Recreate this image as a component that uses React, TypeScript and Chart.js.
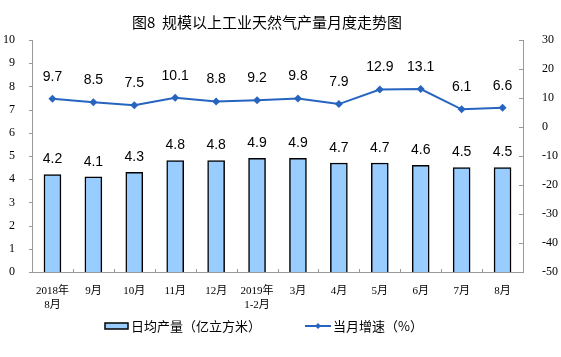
import React, { useEffect, useRef } from "react";
import { Chart, registerables } from "chart.js";

Chart.register(...registerables);

const categories: string[][] = [
  ["2018年", "8月"], ["9月"], ["10月"], ["11月"], ["12月"], ["2019年", "1-2月"],
  ["3月"], ["4月"], ["5月"], ["6月"], ["7月"], ["8月"],
];
const dailyOutput = [4.2, 4.1, 4.3, 4.8, 4.8, 4.9, 4.9, 4.7, 4.7, 4.6, 4.5, 4.5];
const monthlyGrowth = [9.7, 8.5, 7.5, 10.1, 8.8, 9.2, 9.8, 7.9, 12.9, 13.1, 6.1, 6.6];
const barLabel = "日均产量（亿立方米）";
const lineLabel = "当月增速（%）";
const title = "图8  规模以上工业天然气产量月度走势图";

const BAR_FILL = "#99CCFF";
const LINE_COLOR = "#2664C0";
const AXIS_COLOR = "#999";
const SERIF = "'Liberation Serif', 'Noto Sans CJK SC', serif";
const SANS = "'Liberation Sans', Arial, sans-serif";

const overlay = {
  id: "overlay",
  afterDatasetsDraw(chart: any) {
    const ctx = chart.ctx;
    ctx.save();
    ctx.fillStyle = "#000";
    ctx.font = `14px ${SANS}`;
    ctx.textAlign = "center";
    ctx.textBaseline = "bottom";
    chart.getDatasetMeta(0).data.forEach((el: any, i: number) => {
      ctx.fillText(dailyOutput[i].toFixed(1), el.x, el.y - 8);
    });
    chart.getDatasetMeta(1).data.forEach((el: any, i: number) => {
      ctx.fillText(monthlyGrowth[i].toFixed(1), el.x, el.y - 15);
    });
    ctx.restore();
  },
  afterDraw(chart: any) {
    const ctx = chart.ctx;
    const area = chart.chartArea;
    ctx.save();
    // tick marks
    ctx.strokeStyle = AXIS_COLOR;
    ctx.lineWidth = 1;
    ctx.beginPath();
    const yS = chart.scales.y;
    yS.ticks.forEach((t: any) => {
      const py = Math.round(yS.getPixelForValue(t.value)) + 0.5;
      ctx.moveTo(area.left - 3, py);
      ctx.lineTo(area.left, py);
    });
    const y1S = chart.scales.y1;
    y1S.ticks.forEach((t: any) => {
      const py = Math.round(y1S.getPixelForValue(t.value)) + 0.5;
      ctx.moveTo(area.right - 4, py);
      ctx.lineTo(area.right, py);
    });
    const n = categories.length;
    const w = (area.right - area.left) / n;
    for (let i = 1; i < n; i++) {
      const px = Math.round(area.left + w * i) + 0.5;
      ctx.moveTo(px, area.bottom);
      ctx.lineTo(px, area.bottom - 3);
    }
    ctx.stroke();
    // title
    ctx.fillStyle = "#000";
    ctx.font = `15px 'Noto Sans CJK SC', sans-serif`;
    ctx.textAlign = "center";
    ctx.textBaseline = "middle";
    ctx.fillText(title, 267, 22);
    // legend
    const ly = 326;
    ctx.fillStyle = BAR_FILL;
    ctx.fillRect(105, ly - 3, 23, 6);
    ctx.strokeStyle = "#000";
    ctx.lineWidth = 1.5;
    ctx.strokeRect(105, ly - 3, 23, 6);
    ctx.fillStyle = "#000";
    ctx.font = `13px 'Noto Sans CJK SC', sans-serif`;
    ctx.textAlign = "left";
    ctx.fillText(barLabel, 131, ly);
    ctx.strokeStyle = LINE_COLOR;
    ctx.lineWidth = 2;
    ctx.beginPath();
    ctx.moveTo(305, ly);
    ctx.lineTo(331, ly);
    ctx.stroke();
    ctx.fillStyle = LINE_COLOR;
    ctx.beginPath();
    ctx.moveTo(318, ly - 3);
    ctx.lineTo(321, ly);
    ctx.lineTo(318, ly + 3);
    ctx.lineTo(315, ly);
    ctx.closePath();
    ctx.fill();
    ctx.fillStyle = "#000";
    ctx.fillText(lineLabel, 333, ly);
    ctx.restore();
  },
};

export default function App() {
  const ref = useRef<HTMLCanvasElement>(null);
  useEffect(() => {
    document.body.style.margin = "0";
    const chart = new Chart(ref.current!, {
      type: "bar",
      data: {
        labels: categories,
        datasets: [
          {
            type: "bar",
            label: barLabel,
            data: dailyOutput,
            backgroundColor: BAR_FILL,
            borderColor: "#000",
            borderWidth: 1.5,
            barThickness: 17,
            yAxisID: "y",
            order: 2,
          },
          {
            type: "line",
            label: lineLabel,
            data: monthlyGrowth,
            borderColor: LINE_COLOR,
            backgroundColor: LINE_COLOR,
            borderWidth: 2,
            pointStyle: "rectRot",
            pointRadius: 4,
            pointBorderWidth: 0,
            tension: 0,
            yAxisID: "y1",
            order: 1,
          } as any,
        ],
      },
      options: {
        animation: false,
        responsive: false,
        maintainAspectRatio: false,
        layout: { padding: { top: 40, bottom: 25, left: 0, right: 0 } },
        plugins: {
          legend: { display: false },
          title: { display: false },
          tooltip: { enabled: false },
        },
        scales: {
          x: {
            offset: true,
            border: { color: AXIS_COLOR, width: 1 },
            grid: { display: false },
            ticks: { color: "#000", font: { size: 11, family: SERIF }, padding: 5, maxRotation: 0, autoSkip: false },
            afterFit: (s: any) => { s.height = 60; },
          },
          y: {
            position: "left",
            min: 0,
            max: 10,
            border: { color: AXIS_COLOR, width: 1 },
            grid: { display: false },
            ticks: { stepSize: 1, color: "#000", font: { size: 12, family: SERIF }, padding: 9 },
            afterFit: (s: any) => { s.width = 32; },
          },
          y1: {
            position: "right",
            min: -50,
            max: 30,
            border: { color: AXIS_COLOR, width: 1 },
            grid: { display: false },
            ticks: { stepSize: 10, color: "#000", font: { size: 12, family: SERIF }, padding: 11 },
            afterFit: (s: any) => { s.width = 38; },
          },
        },
      },
      plugins: [overlay],
    });
    return () => chart.destroy();
  }, []);
  return (
    <div style={{ position: "fixed", left: 0, top: 0, width: 561, height: 357 }}>
      <canvas ref={ref} width={561} height={357} style={{ width: 561, height: 357 }} />
    </div>
  );
}
